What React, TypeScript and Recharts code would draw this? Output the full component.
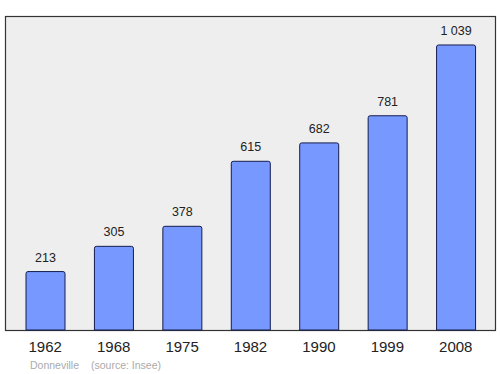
import React from "react";
import { BarChart, Bar, XAxis, YAxis, LabelList, CartesianGrid, usePlotArea } from "recharts";

const years = ["1962", "1968", "1975", "1982", "1990", "1999", "2008"];
const population = [213, 305, 378, 615, 682, 781, 1039];
const valueLabels = ["213", "305", "378", "615", "682", "781", "1\u00a0039"];

const data = years.map((y, i) => ({ year: y, value: population[i], label: valueLabels[i] }));

const FONT = "'Liberation Sans', Arial, sans-serif";

function Frame() {
  const area = usePlotArea();
  if (!area) return null;
  return (
    <rect
      x={area.x - 0.5}
      y={area.y - 0.5}
      width={area.width + 1}
      height={area.height + 1}
      fill="none"
      stroke="#333"
      strokeWidth={1.2}
    />
  );
}

function ValueLabel(props: any) {
  const { x, y, width, value } = props;
  return (
    <text
      x={x + width / 2}
      y={y - 10}
      textAnchor="middle"
      fill="#222"
      fontSize={12.5}
      fontFamily={FONT}
    >
      {value}
    </text>
  );
}

export default function App() {
  return (
    <div style={{ position: "absolute", left: 0, top: 0, width: 500, height: 374, background: "#fff" }}>
      <BarChart
        width={500}
        height={374}
        data={data}
        margin={{ top: 17, right: 5, bottom: 0, left: 6 }}
        barSize={39}
      >
        <CartesianGrid fill="#eeeeee" horizontal={false} vertical={false} />
        <XAxis
          dataKey="year"
          height={44}
          axisLine={false}
          tickLine={false}
          padding={{ left: 5, right: 5 }}
          tick={{ fill: "#222", fontSize: 15, fontFamily: FONT }}
          tickMargin={5}
          interval={0}
        />
        <YAxis hide domain={[0, 1141]} />
        <Bar
          dataKey="value"
          fill="#7799ff"
          stroke="#141c4d"
          strokeWidth={1}
          radius={[2, 2, 0, 0]}
          isAnimationActive={false}
        >
          <LabelList dataKey="label" content={<ValueLabel />} />
        </Bar>
        <Frame />
        <text x={30} y={369} fill="#aaaaaa" fontSize={10.5} fontFamily={FONT}>
          Donneville
        </text>
        <text x={91} y={369} fill="#aaaaaa" fontSize={10.5} fontFamily={FONT}>
          (source: Insee)
        </text>
      </BarChart>
    </div>
  );
}
